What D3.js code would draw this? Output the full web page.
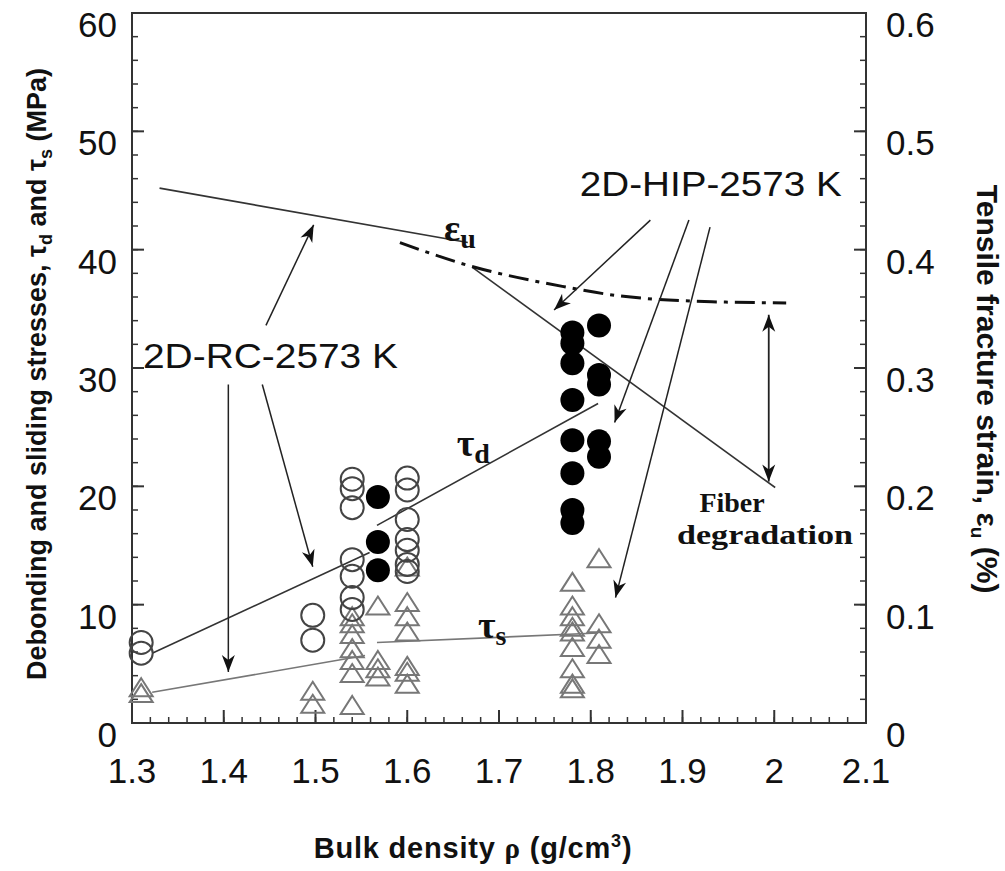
<!DOCTYPE html>
<html>
<head>
<meta charset="utf-8">
<script src="https://cdn.jsdelivr.net/npm/d3@7/dist/d3.min.js"></script>
<style>
  body { margin: 0; background: #fff; }
  svg { display: block; }
</style>
</head>
<body>
<div id="chart"></div>
<script>
// ---- values ----
const xTicks = [1.3, 1.4, 1.5, 1.6, 1.7, 1.8, 1.9, 2.0, 2.1];
const xTickLabels = ["1.3", "1.4", "1.5", "1.6", "1.7", "1.8", "1.9", "2", "2.1"];
const yTicks = [0, 10, 20, 30, 40, 50, 60];
const yRightTicks = [0, 0.1, 0.2, 0.3, 0.4, 0.5, 0.6];
const yRightTickLabels = ["0", "0.1", "0.2", "0.3", "0.4", "0.5", "0.6"];

// 2D-RC-2573 K debonding stress (open circles)
const rcCircles = [
  [1.31, 6.8], [1.31, 5.9],
  [1.497, 9.1], [1.497, 7.0],
  [1.54, 20.6], [1.54, 19.8], [1.54, 18.2], [1.54, 13.8], [1.54, 12.4], [1.54, 10.6], [1.54, 9.6],
  [1.60, 20.7], [1.60, 19.7], [1.60, 17.2], [1.60, 15.5], [1.60, 14.6], [1.60, 13.4], [1.60, 12.8]
];
// 2D-HIP-2573 K debonding stress (filled circles)
const hipCircles = [
  [1.568, 19.1], [1.568, 15.3], [1.568, 12.9],
  [1.78, 33.0], [1.78, 32.1], [1.78, 30.4], [1.78, 27.3], [1.78, 23.9], [1.78, 21.1], [1.78, 18.0], [1.78, 16.9],
  [1.809, 33.6], [1.809, 29.4], [1.809, 28.6], [1.809, 23.8], [1.809, 22.5]
];
// sliding stress (open triangles)
const triangles = [
  [1.31, 2.9], [1.31, 2.4],
  [1.497, 2.6], [1.497, 1.5],
  [1.54, 8.9], [1.54, 8.3], [1.54, 7.4], [1.54, 6.2], [1.54, 5.2], [1.54, 4.1], [1.54, 1.4],
  [1.568, 9.8], [1.568, 5.2], [1.568, 4.5], [1.568, 3.8],
  [1.60, 13.1], [1.60, 10.1], [1.60, 8.9], [1.60, 7.6], [1.60, 4.7], [1.60, 4.2], [1.60, 3.2],
  [1.78, 11.8], [1.78, 9.8], [1.78, 8.9], [1.78, 8.0], [1.78, 7.6], [1.78, 6.3], [1.78, 4.5], [1.78, 3.2], [1.78, 2.8],
  [1.809, 13.8], [1.809, 8.3], [1.809, 7.0], [1.809, 5.7]
];

// trend lines
const epsUpper = [[1.33, 45.2], [1.666, 40.6]];
const epsLower = [[1.671, 38.5], [2.001, 19.9]];
const epsDashDot = [[1.592, 40.6], [1.665, 38.7], [1.769, 36.9], [1.821, 36.2], [1.932, 35.6], [2.013, 35.5]];
const tauD1 = [[1.322, 5.9], [1.559, 14.4]];
const tauD2 = [[1.567, 16.7], [1.808, 27.0]];
const tauS1 = [[1.322, 2.6], [1.554, 5.7]];
const tauS2 = [[1.567, 6.8], [1.808, 7.6]];

// annotation arrows [tail, head]
const rcArrows = [
  [[1.446, 33.6], [1.498, 42.1]],
  [[1.405, 28.6], [1.405, 4.3]],
  [[1.442, 28.6], [1.497, 13.2]]
];
const hipArrows = [
  [[1.865, 42.5], [1.76, 34.9]],
  [[1.907, 42.5], [1.826, 25.4]],
  [[1.93, 41.9], [1.827, 10.6]]
];
const degradationArrow = [[1.994, 34.5], [1.994, 20.4]];

// ---- chart ----
const width = 1005, height = 871;
const margin = {top: 13, right: 139, bottom: 148, left: 132};

const svg = d3.select("#chart").append("svg")
  .attr("width", width)
  .attr("height", height);

const x = d3.scaleLinear().domain([1.3, 2.1]).range([margin.left, width - margin.right]);
const y = d3.scaleLinear().domain([0, 60]).range([height - margin.bottom, margin.top]);
const yR = d3.scaleLinear().domain([0, 0.6]).range([height - margin.bottom, margin.top]);

const axisColor = "#333";
const sans = "'Liberation Sans', Arial, sans-serif";
const serif = "'Liberation Serif', 'Times New Roman', serif";

const defs = svg.append("defs");
defs.append("marker")
  .attr("id", "head")
  .attr("markerUnits", "userSpaceOnUse")
  .attr("viewBox", "-18 -8 20 16")
  .attr("refX", 0).attr("refY", 0)
  .attr("markerWidth", 20).attr("markerHeight", 16)
  .attr("orient", "auto-start-reverse")
  .append("path")
  .attr("d", "M0,0 L-17,-6.5 L-12,0 L-17,6.5 Z")
  .attr("fill", "#111");

// frame
svg.append("rect")
  .attr("x", x(1.3)).attr("y", y(60))
  .attr("width", x(2.1) - x(1.3)).attr("height", y(0) - y(60))
  .attr("fill", "none").attr("stroke", axisColor).attr("stroke-width", 2);

// inward ticks
const minorX = d3.range(1.3, 2.1001, 0.02);
const minorY = d3.range(0, 60.01, 2);

svg.append("g").selectAll("line").data(minorX).join("line")
  .attr("x1", d => x(d)).attr("x2", d => x(d))
  .attr("y1", y(0)).attr("y2", y(0) - 6)
  .attr("stroke", axisColor).attr("stroke-width", 1.5);
svg.append("g").selectAll("line").data(xTicks).join("line")
  .attr("x1", d => x(d)).attr("x2", d => x(d))
  .attr("y1", y(0)).attr("y2", y(0) - 13)
  .attr("stroke", axisColor).attr("stroke-width", 2);

svg.append("g").selectAll("line").data(minorY).join("line")
  .attr("x1", x(1.3)).attr("x2", x(1.3) + 6)
  .attr("y1", d => y(d)).attr("y2", d => y(d))
  .attr("stroke", axisColor).attr("stroke-width", 1.5);
svg.append("g").selectAll("line").data(yTicks).join("line")
  .attr("x1", x(1.3)).attr("x2", x(1.3) + 12)
  .attr("y1", d => y(d)).attr("y2", d => y(d))
  .attr("stroke", axisColor).attr("stroke-width", 2);

svg.append("g").selectAll("line").data(minorY).join("line")
  .attr("x1", x(2.1)).attr("x2", x(2.1) - 6)
  .attr("y1", d => y(d)).attr("y2", d => y(d))
  .attr("stroke", axisColor).attr("stroke-width", 1.5);
svg.append("g").selectAll("line").data(yRightTicks).join("line")
  .attr("x1", x(2.1)).attr("x2", x(2.1) - 12)
  .attr("y1", d => yR(d)).attr("y2", d => yR(d))
  .attr("stroke", axisColor).attr("stroke-width", 2);

// tick labels
svg.append("g").selectAll("text").data(xTicks).join("text")
  .attr("x", d => x(d)).attr("y", y(0) + 60)
  .attr("text-anchor", "middle")
  .attr("font-family", sans).attr("font-size", 35).attr("fill", "#111")
  .text((d, i) => xTickLabels[i]);

svg.append("g").selectAll("text").data(yTicks).join("text")
  .attr("x", x(1.3) - 15).attr("y", d => y(d) + 24)
  .attr("text-anchor", "end")
  .attr("font-family", sans).attr("font-size", 35).attr("fill", "#111")
  .text(d => d);

svg.append("g").selectAll("text").data(yRightTicks).join("text")
  .attr("x", x(2.1) + 20).attr("y", d => yR(d) + 24)
  .attr("text-anchor", "start")
  .attr("font-family", sans).attr("font-size", 35).attr("fill", "#111")
  .text((d, i) => yRightTickLabels[i]);

// axis titles
const leftTitle = svg.append("text")
  .attr("transform", `translate(46,${(y(0) + y(60)) / 2 + 6}) rotate(-90)`)
  .attr("text-anchor", "middle")
  .attr("font-family", sans).attr("font-size", 27).attr("font-weight", "bold").attr("fill", "#111");
leftTitle.append("tspan").text("Debonding and sliding stresses, τ");
leftTitle.append("tspan").attr("font-size", 18).attr("dy", 6).text("d");
leftTitle.append("tspan").attr("dy", -6).text(" and τ");
leftTitle.append("tspan").attr("font-size", 18).attr("dy", 6).text("s");
leftTitle.append("tspan").attr("dy", -6).text(" (MPa)");

const rightTitle = svg.append("text")
  .attr("transform", `translate(977,389) rotate(90)`)
  .attr("text-anchor", "middle")
  .attr("font-family", sans).attr("font-size", 30).attr("font-weight", "bold").attr("fill", "#111");
rightTitle.append("tspan").text("Tensile fracture strain, ε");
rightTitle.append("tspan").attr("font-size", 19).attr("dy", 6).text("u");
rightTitle.append("tspan").attr("dy", -6).text(" (%)");

const bottomTitle = svg.append("text")
  .attr("x", 473).attr("y", 858)
  .attr("text-anchor", "middle")
  .attr("font-family", sans).attr("font-size", 29).attr("font-weight", "bold")
  .attr("letter-spacing", 0.8).attr("fill", "#111");
bottomTitle.append("tspan").text("Bulk density ");
bottomTitle.append("tspan").attr("font-family", serif).text("ρ");
bottomTitle.append("tspan").text(" (g/cm");
bottomTitle.append("tspan").attr("font-size", 18).attr("dy", -11).text("3");
bottomTitle.append("tspan").attr("dy", 11).text(")");

// trend lines
const line = d3.line().x(d => x(d[0])).y(d => y(d[1]));
const curve = d3.line().x(d => x(d[0])).y(d => y(d[1])).curve(d3.curveMonotoneX);

[epsUpper, epsLower, tauD1, tauD2].forEach(seg => {
  svg.append("path").attr("d", line(seg))
    .attr("fill", "none").attr("stroke", "#333").attr("stroke-width", 1.6);
});
[tauS1, tauS2].forEach(seg => {
  svg.append("path").attr("d", line(seg))
    .attr("fill", "none").attr("stroke", "#777").attr("stroke-width", 1.6);
});
svg.append("path").attr("d", curve(epsDashDot))
  .attr("fill", "none").attr("stroke", "#111").attr("stroke-width", 3)
  .attr("stroke-dasharray", "20,7,4,7");

// markers
svg.append("g").selectAll("path").data(triangles).join("path")
  .attr("transform", d => `translate(${x(d[0])},${y(d[1])})`)
  .attr("d", "M0,-10.5 L11.5,7.5 L-11.5,7.5 Z")
  .attr("fill", "none").attr("stroke", "#777").attr("stroke-width", 2);

svg.append("g").selectAll("circle").data(rcCircles).join("circle")
  .attr("cx", d => x(d[0])).attr("cy", d => y(d[1])).attr("r", 11.5)
  .attr("fill", "none").attr("stroke", "#444").attr("stroke-width", 2);

svg.append("g").selectAll("circle").data(hipCircles).join("circle")
  .attr("cx", d => x(d[0])).attr("cy", d => y(d[1])).attr("r", 12)
  .attr("fill", "#000");

// annotation arrows
rcArrows.concat(hipArrows).forEach(a => {
  svg.append("line")
    .attr("x1", x(a[0][0])).attr("y1", y(a[0][1]))
    .attr("x2", x(a[1][0])).attr("y2", y(a[1][1]))
    .attr("stroke", "#222").attr("stroke-width", 1.5)
    .attr("marker-end", "url(#head)");
});
svg.append("line")
  .attr("x1", x(degradationArrow[0][0])).attr("y1", y(degradationArrow[0][1]))
  .attr("x2", x(degradationArrow[1][0])).attr("y2", y(degradationArrow[1][1]))
  .attr("stroke", "#222").attr("stroke-width", 1.8)
  .attr("marker-start", "url(#head)").attr("marker-end", "url(#head)");

// labels
svg.append("text")
  .attr("x", x(1.312)).attr("y", y(30.0))
  .attr("font-family", sans).attr("font-size", 35).attr("fill", "#111")
  .attr("textLength", 255).attr("lengthAdjust", "spacingAndGlyphs")
  .text("2D-RC-2573 K");

svg.append("text")
  .attr("x", x(1.788)).attr("y", y(44.5))
  .attr("font-family", sans).attr("font-size", 35).attr("fill", "#111")
  .attr("textLength", 262).attr("lengthAdjust", "spacingAndGlyphs")
  .text("2D-HIP-2573 K");

function greekLabel(px, py, sym, sub) {
  const t = svg.append("text")
    .attr("x", x(px)).attr("y", y(py))
    .attr("font-family", serif).attr("font-weight", "bold").attr("fill", "#111");
  t.append("tspan").attr("font-size", 38).text(sym);
  t.append("tspan").attr("font-size", 28).attr("dy", 7).text(sub);
}
greekLabel(1.64, 40.7, "ε", "u");
greekLabel(1.654, 22.6, "τ", "d");
greekLabel(1.677, 7.2, "τ", "s");

svg.append("text")
  .attr("x", x(1.954)).attr("y", y(17.8))
  .attr("text-anchor", "middle")
  .attr("font-family", serif).attr("font-size", 28).attr("font-weight", "bold").attr("fill", "#111")
  .text("Fiber");
svg.append("text")
  .attr("x", x(1.99)).attr("y", y(15.1))
  .attr("text-anchor", "middle")
  .attr("font-family", serif).attr("font-size", 28).attr("font-weight", "bold").attr("fill", "#111")
  .attr("textLength", 176).attr("lengthAdjust", "spacingAndGlyphs")
  .text("degradation");
</script>
</body>
</html>
